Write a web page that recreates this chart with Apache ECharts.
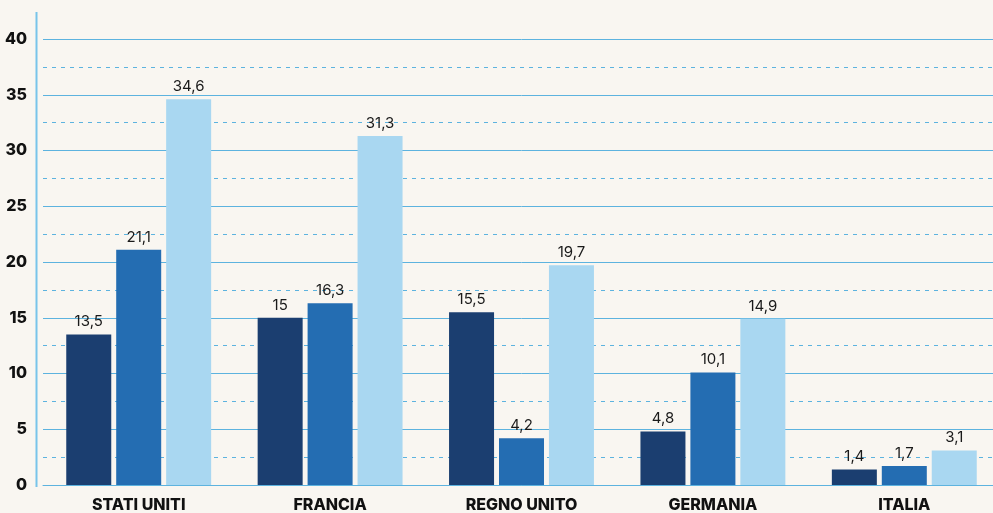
<!DOCTYPE html>
<html>
<head>
<meta charset="utf-8">
<script src="https://cdn.jsdelivr.net/npm/echarts@6/dist/echarts.min.js"></script>
<style>
  html, body { margin: 0; padding: 0; background: #f9f6f1; overflow: hidden; }
  #chart { width: 1000px; height: 513px; }
</style>
</head>
<body>
<div id="chart"></div>
<script>
const countries = ['STATI UNITI', 'FRANCIA', 'REGNO UNITO', 'GERMANIA', 'ITALIA'];
const seriesA = [13.5, 15, 15.5, 4.8, 1.4];
const seriesB = [21.1, 16.3, 4.2, 10.1, 1.7];
const seriesC = [34.6, 31.3, 19.7, 14.9, 3.1];

const GRID = '#5db3df';
const FONT = 'Inter, "Liberation Sans", Arial, sans-serif';

const fmt = (v) => String(v).replace('.', ',');

function bar(name, data, color) {
  return {
    name: name,
    type: 'bar',
    data: data,
    barWidth: 45,
    barGap: '11%',
    itemStyle: { color: color },
    label: {
      show: true,
      position: 'top',
      distance: 5,
      color: '#1a1a1a',
      fontFamily: FONT,
      fontSize: 15,
      formatter: (p) => fmt(p.value)
    }
  };
}

const chart = echarts.init(document.getElementById('chart'));
chart.setOption({
  backgroundColor: '#f9f6f1',
  animation: false,
  grid: { left: 43, top: 39, right: 0, height: 448, containLabel: false },
  graphic: [{
    type: 'line',
    shape: { x1: 36.5, y1: 12, x2: 36.5, y2: 487 },
    style: { stroke: '#78c4ea', lineWidth: 2 }
  }],
  xAxis: {
    type: 'category',
    data: countries,
    axisLine: { show: true, lineStyle: { color: GRID, width: 1 } },
    axisTick: { show: false },
    axisLabel: {
      color: '#111',
      fontFamily: FONT,
      fontWeight: 800,
      fontSize: 16,
      margin: 12
    }
  },
  yAxis: {
    type: 'value',
    min: 0,
    max: 40,
    interval: 5,
    offset: 7,
    axisLine: { show: false },
    axisTick: { show: false },
    axisLabel: {
      color: '#111',
      fontFamily: FONT,
      fontWeight: 800,
      fontSize: 16,
      margin: 9,
      verticalAlign: 'middle',
      padding: [0, 0, 12, 0]
    },
    splitLine: { show: true, lineStyle: { color: GRID, width: 1 } },
    minorTick: { show: false, splitNumber: 2 },
    minorSplitLine: { show: true, lineStyle: { color: GRID, width: 1, type: [4, 5] } }
  },
  series: [
    bar('A', seriesA, '#1b3e70'),
    bar('B', seriesB, '#246db2'),
    bar('C', seriesC, '#a9d7f1')
  ]
});
</script>
</body>
</html>
